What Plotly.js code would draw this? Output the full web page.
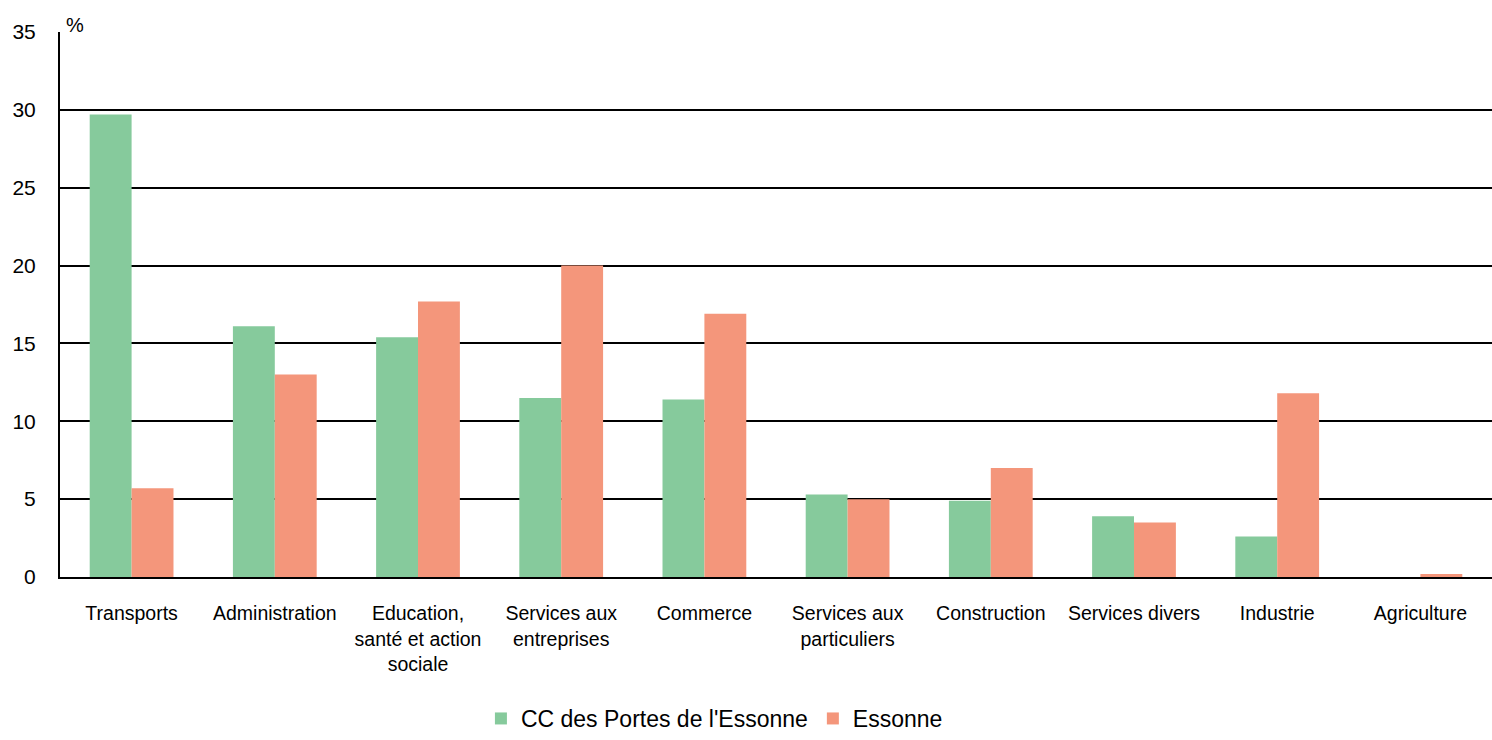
<!DOCTYPE html>
<html>
<head>
<meta charset="utf-8">
<script src="https://cdn.plot.ly/plotly-3.0.1.min.js"></script>
<style>html,body{margin:0;padding:0;background:#fff;}#chart{width:1492px;height:740px;}</style>
</head>
<body>
<div id="chart"></div>
<script>
const categories = ["Transports", "Administration", "Education,<br>santé et action<br>sociale", "Services aux<br>entreprises", "Commerce", "Services aux<br>particuliers", "Construction", "Services divers", "Industrie", "Agriculture"];
const ccPortes = [29.7, 16.1, 15.4, 11.5, 11.4, 5.3, 4.9, 3.9, 2.6, 0];
const essonne = [5.7, 13.0, 17.7, 20.0, 16.9, 5.0, 7.0, 3.5, 11.8, 0.2];
const yTicks = [0, 5, 10, 15, 20, 25, 30, 35];

const traces = [
  {type: "bar", name: "CC des Portes de l'Essonne", x: categories, y: ccPortes, marker: {color: "#86CA9C"}, hoverinfo: "y"},
  {type: "bar", name: "Essonne", x: categories, y: essonne, marker: {color: "#F4967B"}, hoverinfo: "y"}
];

const layout = {
  width: 1492, height: 740,
  margin: {l: 60, r: 0, t: 32, b: 163, autoexpand: false},
  paper_bgcolor: "#fff", plot_bgcolor: "#fff",
  font: {family: "Liberation Sans, Arial, sans-serif", color: "#000"},
  barmode: "group", bargap: 0.415, bargroupgap: 0,
  showlegend: true,
  legend: {orientation: "h", x: 0.457, xanchor: "center", yref: "container", y: -0.008, yanchor: "bottom", font: {size: 23, color: "#000"}, traceorder: "normal"},
  xaxis: {
    type: "category", showline: true, linecolor: "#000", linewidth: 2,
    showgrid: false, ticks: "", tickfont: {size: 19.5, color: "#000"},
    ticklabelstandoff: 18, fixedrange: true
  },
  yaxis: {
    range: [0, 35], tickvals: yTicks, ticktext: yTicks.map(String),
    showline: true, linecolor: "#000", linewidth: 2,
    showgrid: true, gridcolor: "#000", gridwidth: 2,
    zeroline: false, ticks: "", tickfont: {size: 21, color: "#000"},
    ticklabelstandoff: 18, fixedrange: true
  },
  annotations: [{text: "%", xref: "paper", yref: "paper", x: 0.003, y: 1.0, xanchor: "left", yanchor: "bottom", showarrow: false, font: {size: 20, color: "#000"}, yshift: -6}]
};

Plotly.newPlot("chart", traces, layout, {displayModeBar: false, staticPlot: true});
</script>
</body>
</html>
